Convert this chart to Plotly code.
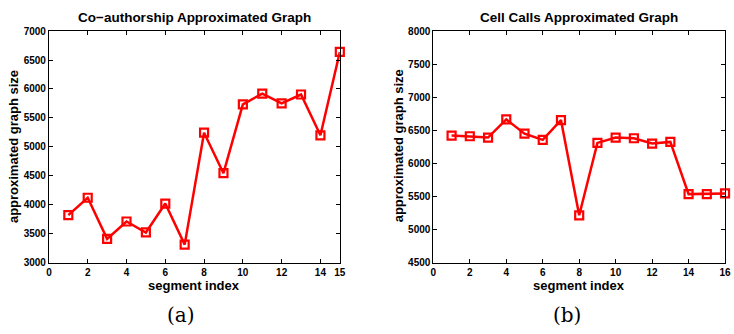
import plotly.graph_objects as go

# Data
seg_a = list(range(1, 16))
size_a = [3820, 4120, 3410, 3710, 3520, 4020, 3310, 5245, 4545, 5735, 5920, 5750, 5905, 5200, 6640]
seg_b = list(range(1, 17))
size_b = [6420, 6410, 6390, 6665, 6450, 6355, 6655, 5215, 6310, 6390, 6380, 6300, 6325, 5535, 5535, 5545]
xticks_a = [0, 2, 4, 6, 8, 10, 12, 14, 15]
xticks_b = [0, 2, 4, 6, 8, 10, 12, 14, 16]
yticks_a = [3000, 3500, 4000, 4500, 5000, 5500, 6000, 6500, 7000]
yticks_b = [4500, 5000, 5500, 6000, 6500, 7000, 7500, 8000]
titles = ["Co\u2212authorship Approximated Graph", "Cell Calls Approximated Graph"]
captions = ["(a)", "(b)"]

W, H = 734, 334
RED = "#ff0000"

fig = go.Figure()
for xs, ys, xa, ya in [(seg_a, size_a, "x", "y"), (seg_b, size_b, "x2", "y2")]:
    fig.add_trace(go.Scatter(x=xs, y=ys, mode="lines+markers", xaxis=xa, yaxis=ya,
                             line=dict(color=RED, width=2.5),
                             marker=dict(symbol="square-open", size=8, color=RED,
                                         line=dict(width=2.2, color=RED)),
                             showlegend=False, cliponaxis=False))

tickfont = dict(family="Liberation Sans", size=10, color="black")
def bold(vals):
    return ["<b>%d</b>" % v for v in vals]
def ax(**kw):
    d = dict(showgrid=False, zeroline=False, showline=True, linecolor="black", linewidth=1,
             mirror="ticks", ticks="inside", ticklen=4, tickwidth=1, tickcolor="black",
             tickfont=tickfont)
    d.update(kw)
    return d

top = 1 - 26 / H
bot = 1 - 265.3 / H
fig.update_layout(
    width=W, height=H, margin=dict(l=0, r=0, t=0, b=0),
    plot_bgcolor="white", paper_bgcolor="white",
    xaxis=ax(domain=[46.5 / W, 341 / W], range=[0, 15], tickvals=xticks_a, ticktext=bold(xticks_a), anchor="y"),
    yaxis=ax(domain=[bot, top], range=[3000, 7000], tickvals=yticks_a, ticktext=bold(yticks_a), anchor="x"),
    xaxis2=ax(domain=[435.7 / W, 731 / W], range=[0, 16], tickvals=xticks_b, ticktext=bold(xticks_b), anchor="y2"),
    yaxis2=ax(domain=[bot, top], range=[4500, 8000], tickvals=yticks_b, ticktext=bold(yticks_b), anchor="x2"),
)

lab = dict(family="Liberation Sans", size=13, color="black")
ann = []
centers = [(46.5 + 341) / 2, (435.7 + 731) / 2]
ylab_x = [10, 400]
def A(text, x, y, font, angle=0):
    return dict(text=text, x=x / W, y=1 - y / H, xref="paper", yref="paper", showarrow=False,
                xanchor="center", yanchor="middle", textangle=angle, font=font)
for i in range(2):
    ann.append(A("<b>%s</b>" % titles[i], centers[i], 12, dict(family="Liberation Sans", size=13.5, color="black")))
    ann.append(A("<b>segment index</b>", [193, 582.7][i], 289, lab))
    ann.append(A("<b>approximated graph size</b>", ylab_x[i], 145, lab, -90))
    ann.append(A(captions[i], [180, 571][i], 320, dict(family="DejaVu Serif", size=20, color="black")))
fig.update_layout(annotations=ann)

fig.write_html("out.html")
